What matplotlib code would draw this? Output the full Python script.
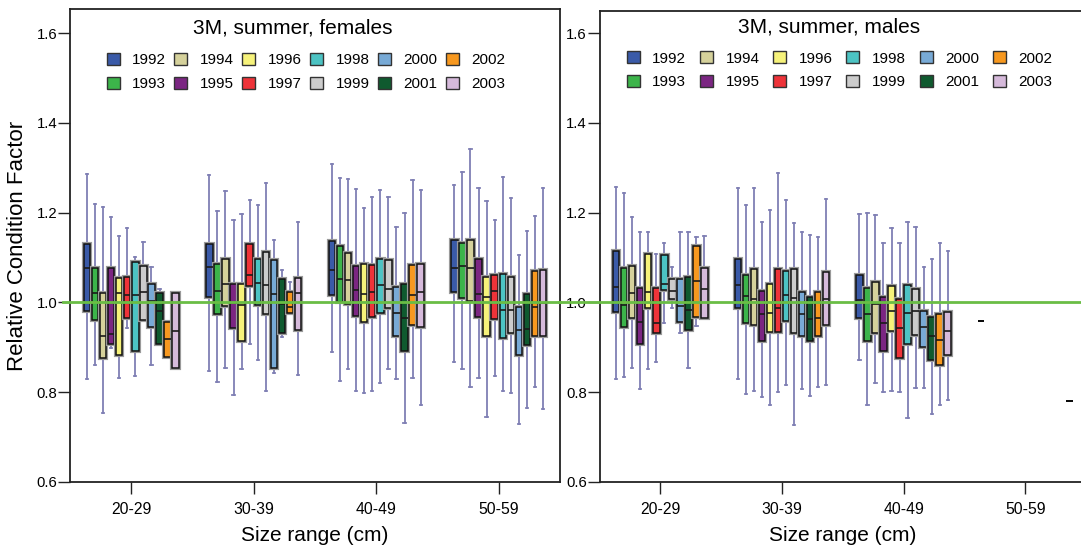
import numpy as np
import matplotlib
matplotlib.use("Agg")
import matplotlib.pyplot as plt
from matplotlib.patches import Patch
import matplotlib.patheffects as pe

plt.rcParams['font.family'] = ['Liberation Sans', 'DejaVu Sans']

size_ranges = ["20-29", "30-39", "40-49", "50-59"]
years = [str(y) for y in range(1992, 2004)]
year_colors = ['#3a5aa8', '#3cb44a', '#d5d19b', '#7b2682', '#f6f27a', '#ee3339',
               '#4cc3c3', '#cccccc', '#78aad6', '#0f5a2f', '#f7981f', '#d6badb']

nan = np.nan
# Females: rows = size range, columns = years 1992..2003
F_LOW = [[0.829, 0.860, 0.753, 0.898, 0.831, 0.943, 0.835, 0.961, 0.860, 0.904, 0.879, 0.853],
         [0.847, 0.822, 0.854, 0.794, 0.852, 0.906, 0.872, 0.802, 0.842, 0.922, 0.976, 0.839],
         [0.890, 0.825, 0.851, 0.803, 0.798, 0.802, 0.819, 0.852, 0.829, 0.731, 0.832, 0.771],
         [0.867, 0.851, 0.811, 0.832, 0.745, 0.836, 0.803, 0.797, 0.728, 0.764, 0.811, 0.762]]
F_Q1 = [[0.980, 0.961, 0.875, 0.906, 0.883, 0.964, 0.892, 0.961, 0.944, 0.908, 0.879, 0.853],
        [1.013, 0.973, 0.992, 0.943, 0.913, 1.036, 0.994, 0.975, 0.854, 0.932, 0.976, 0.939],
        [1.016, 1.001, 0.996, 0.970, 0.957, 0.967, 0.976, 0.987, 0.926, 0.892, 0.950, 0.945],
        [1.022, 1.010, 1.004, 0.968, 0.926, 0.963, 0.920, 0.932, 0.882, 0.904, 0.924, 0.924]]
F_MED = [[1.077, 1.020, 0.924, 0.930, 1.020, 1.016, 1.016, 1.022, 1.004, 0.980, 0.918, 0.936],
         [1.079, 1.026, 1.042, 0.999, 0.995, 1.061, 1.043, 1.039, 1.019, 0.997, 0.989, 1.021],
         [1.072, 1.053, 1.049, 1.027, 1.019, 1.022, 1.039, 1.030, 0.977, 0.964, 1.016, 1.024],
         [1.076, 1.081, 1.076, 1.018, 1.012, 1.026, 0.983, 0.984, 0.939, 0.940, 0.989, 0.999]]
F_Q3 = [[1.131, 1.077, 1.020, 1.077, 1.055, 1.057, 1.091, 1.082, 1.040, 1.020, 0.956, 1.020],
        [1.131, 1.085, 1.097, 1.042, 1.042, 1.131, 1.097, 1.113, 1.094, 1.051, 1.024, 1.055],
        [1.137, 1.125, 1.111, 1.082, 1.085, 1.083, 1.097, 1.094, 1.035, 1.042, 1.084, 1.086],
        [1.140, 1.133, 1.140, 1.097, 1.056, 1.062, 1.063, 1.056, 0.990, 1.018, 1.070, 1.072]]
F_HIGH = [[1.287, 1.220, 1.213, 1.191, 1.148, 1.165, 1.101, 1.135, 1.079, 1.030, 0.956, 1.020],
          [1.283, 1.203, 1.248, 1.183, 1.198, 1.229, 1.218, 1.266, 1.140, 1.071, 1.046, 1.180],
          [1.308, 1.277, 1.275, 1.252, 1.210, 1.235, 1.251, 1.235, 1.169, 1.200, 1.273, 1.251],
          [1.261, 1.291, 1.341, 1.255, 1.226, 1.183, 1.279, 1.233, 1.105, 1.160, 1.193, 1.255]]

# Males
M_LOW = [[0.830, 0.833, 0.854, 0.807, 0.851, 0.866, 0.955, 0.988, 0.931, 0.853, 0.947, 0.964],
         [0.828, 0.795, 0.803, 0.790, 0.771, 0.800, 0.815, 0.727, 0.806, 0.791, 0.812, 0.816],
         [0.872, 0.772, 0.820, 0.800, 0.803, 0.800, 0.742, 0.809, 0.809, 0.750, 0.772, 0.783],
         [0.958, nan, nan, nan, nan, nan, nan, nan, nan, nan, nan, 0.781]]
M_Q1 = [[0.978, 0.944, 0.964, 0.907, 0.988, 0.931, 1.028, 1.007, 0.957, 0.938, 0.968, 0.964],
        [0.987, 0.955, 0.949, 0.914, 0.934, 0.933, 0.958, 0.931, 0.924, 0.913, 0.925, 0.949],
        [0.966, 0.914, 0.931, 0.892, 0.937, 0.875, 0.908, 0.927, 0.901, 0.872, 0.860, 0.882],
        [0.958, nan, nan, nan, nan, nan, nan, nan, nan, nan, nan, 0.781]]
M_MED = [[1.034, 0.995, 1.020, 0.956, 1.023, 0.955, 1.041, 1.026, 0.992, 0.982, 1.047, 1.030],
         [1.039, 1.015, 1.007, 0.973, 0.976, 0.987, 1.016, 1.010, 0.973, 0.963, 0.965, 1.007],
         [1.005, 0.973, 0.996, 0.953, 0.981, 0.942, 0.976, 0.980, 0.944, 0.926, 0.915, 0.935],
         [0.958, nan, nan, nan, nan, nan, nan, nan, nan, nan, nan, 0.781]]
M_Q3 = [[1.114, 1.077, 1.080, 1.033, 1.107, 1.033, 1.105, 1.051, 1.051, 1.057, 1.125, 1.077],
        [1.097, 1.060, 1.075, 1.026, 1.042, 1.075, 1.070, 1.075, 1.022, 1.011, 1.022, 1.068],
        [1.061, 1.033, 1.046, 1.013, 1.036, 1.008, 1.038, 1.029, 0.981, 0.968, 0.975, 0.979],
        [0.958, nan, nan, nan, nan, nan, nan, nan, nan, nan, nan, 0.781]]
M_HIGH = [[1.258, 1.243, 1.191, 1.157, 1.157, 1.108, 1.132, 1.079, 1.157, 1.157, 1.146, 1.148],
          [1.255, 1.217, 1.256, 1.180, 1.206, 1.289, 1.229, 1.178, 1.157, 1.150, 1.146, 1.230],
          [1.198, 1.200, 1.195, 1.133, 1.165, 1.133, 1.180, 1.168, 1.078, 1.096, 1.133, 1.115],
          [0.958, nan, nan, nan, nan, nan, nan, nan, nan, nan, nan, 0.781]]

W, H = 1081, 548
fig = plt.figure(figsize=(W / 100, H / 100), dpi=100)

def fx(px):
    return px / W

def fy(py):
    return 1 - py / H

ax1 = fig.add_axes([fx(70), fy(481.7), fx(560) - fx(70), fy(9.3) - fy(481.7)])
ax2 = fig.add_axes([fx(599.5), fy(481.7), fx(1086) - fx(599.5), fy(11) - fy(481.7)])

whisk_col = '#7f7fb4'
step = 0.066
bw = 0.053


def draw_panel(ax, low, q1, med, q3, high, title, ylim_top, title_xy, leg_xy, colsp):
    for g in range(len(size_ranges)):
        for i in range(len(years)):
            if np.isnan(med[g][i]):
                continue
            pos = g + 1 + (i - 5.5) * step
            stats = [dict(whislo=low[g][i], q1=q1[g][i], med=med[g][i],
                          q3=q3[g][i], whishi=high[g][i], fliers=[])]
            degenerate = q1[g][i] == q3[g][i] and low[g][i] == high[g][i]
            r = ax.bxp(stats, positions=[pos], widths=bw, patch_artist=True,
                       showfliers=False, capwidths=bw * 0.35, manage_ticks=False,
                       boxprops=dict(facecolor=year_colors[i], edgecolor='#111111', linewidth=1.1),
                       medianprops=dict(color='#1a1a1a', linewidth=1.2),
                       whiskerprops=dict(color=whisk_col, linewidth=1.3),
                       capprops=dict(color=whisk_col, linewidth=1.3))
            for b in r['boxes']:
                b.set_zorder(3)
                if not degenerate:
                    b.set_path_effects([pe.withStroke(linewidth=3.0, foreground='#9a9a9a')])
            for m in r['medians']:
                m.set_zorder(4)
            if degenerate:
                for c in r['caps'] + r['whiskers']:
                    c.set_visible(False)
                for m in r['medians']:
                    m.set_color('black')
    ax.set_xlim(0.5, 4.5)
    ax.set_ylim(0.6, ylim_top)
    ax.set_xticks(range(1, 5))
    ax.set_xticklabels(size_ranges)
    ax.set_yticks([0.6, 0.8, 1.0, 1.2, 1.4, 1.6])
    ax.set_yticklabels(['0.6', '0.8', '1.0', '1.2', '1.4', '1.6'])
    ax.tick_params(axis='both', direction='out', length=8.4, width=1.0, color='#222222')
    ax.tick_params(axis='y', pad=0.8, labelsize=10.7)
    ax.tick_params(axis='x', pad=6.0, labelsize=11.3)
    for s in ax.spines.values():
        s.set_linewidth(1.3)
        s.set_color('#222222')
    ax.set_xlabel('Size range (cm)', fontsize=15, labelpad=7)
    ax.text(title_xy[0], title_xy[1], title, transform=ax.transAxes,
            ha='center', va='center', fontsize=15)
    handles = [Patch(facecolor=c, edgecolor='#333333', linewidth=1.0) for c in year_colors]
    ax.legend(handles, years, ncol=6, loc='center left', bbox_to_anchor=leg_xy,
              frameon=False, fontsize=11, handlelength=0.85, handleheight=0.85,
              handletextpad=0.83, columnspacing=colsp, labelspacing=0.62,
              borderpad=0, borderaxespad=0)


draw_panel(ax1, F_LOW, F_Q1, F_MED, F_Q3, F_HIGH, '3M, summer, females', 1.6535,
           (0.455, 0.9598), (0.0749, 0.8675), 0.53)
draw_panel(ax2, M_LOW, M_Q1, M_MED, M_Q3, M_HIGH, '3M, summer, males', 1.6497,
           (0.4717, 0.9666), (0.0559, 0.8740), 0.89)

ax1.set_ylabel('Relative Condition Factor', fontsize=16, labelpad=6)

green = '#6abd45'
ax1.axhline(1.0, xmin=-0.014, xmax=1.0, color=green, linewidth=2.0, zorder=10, clip_on=False)
gap = (599.5 - 560) / (1086 - 599.5)
ax2.axhline(1.0, xmin=-gap - 0.002, xmax=1.0, color=green, linewidth=2.0, zorder=10, clip_on=False)

fig.savefig('out.png', dpi=100)
